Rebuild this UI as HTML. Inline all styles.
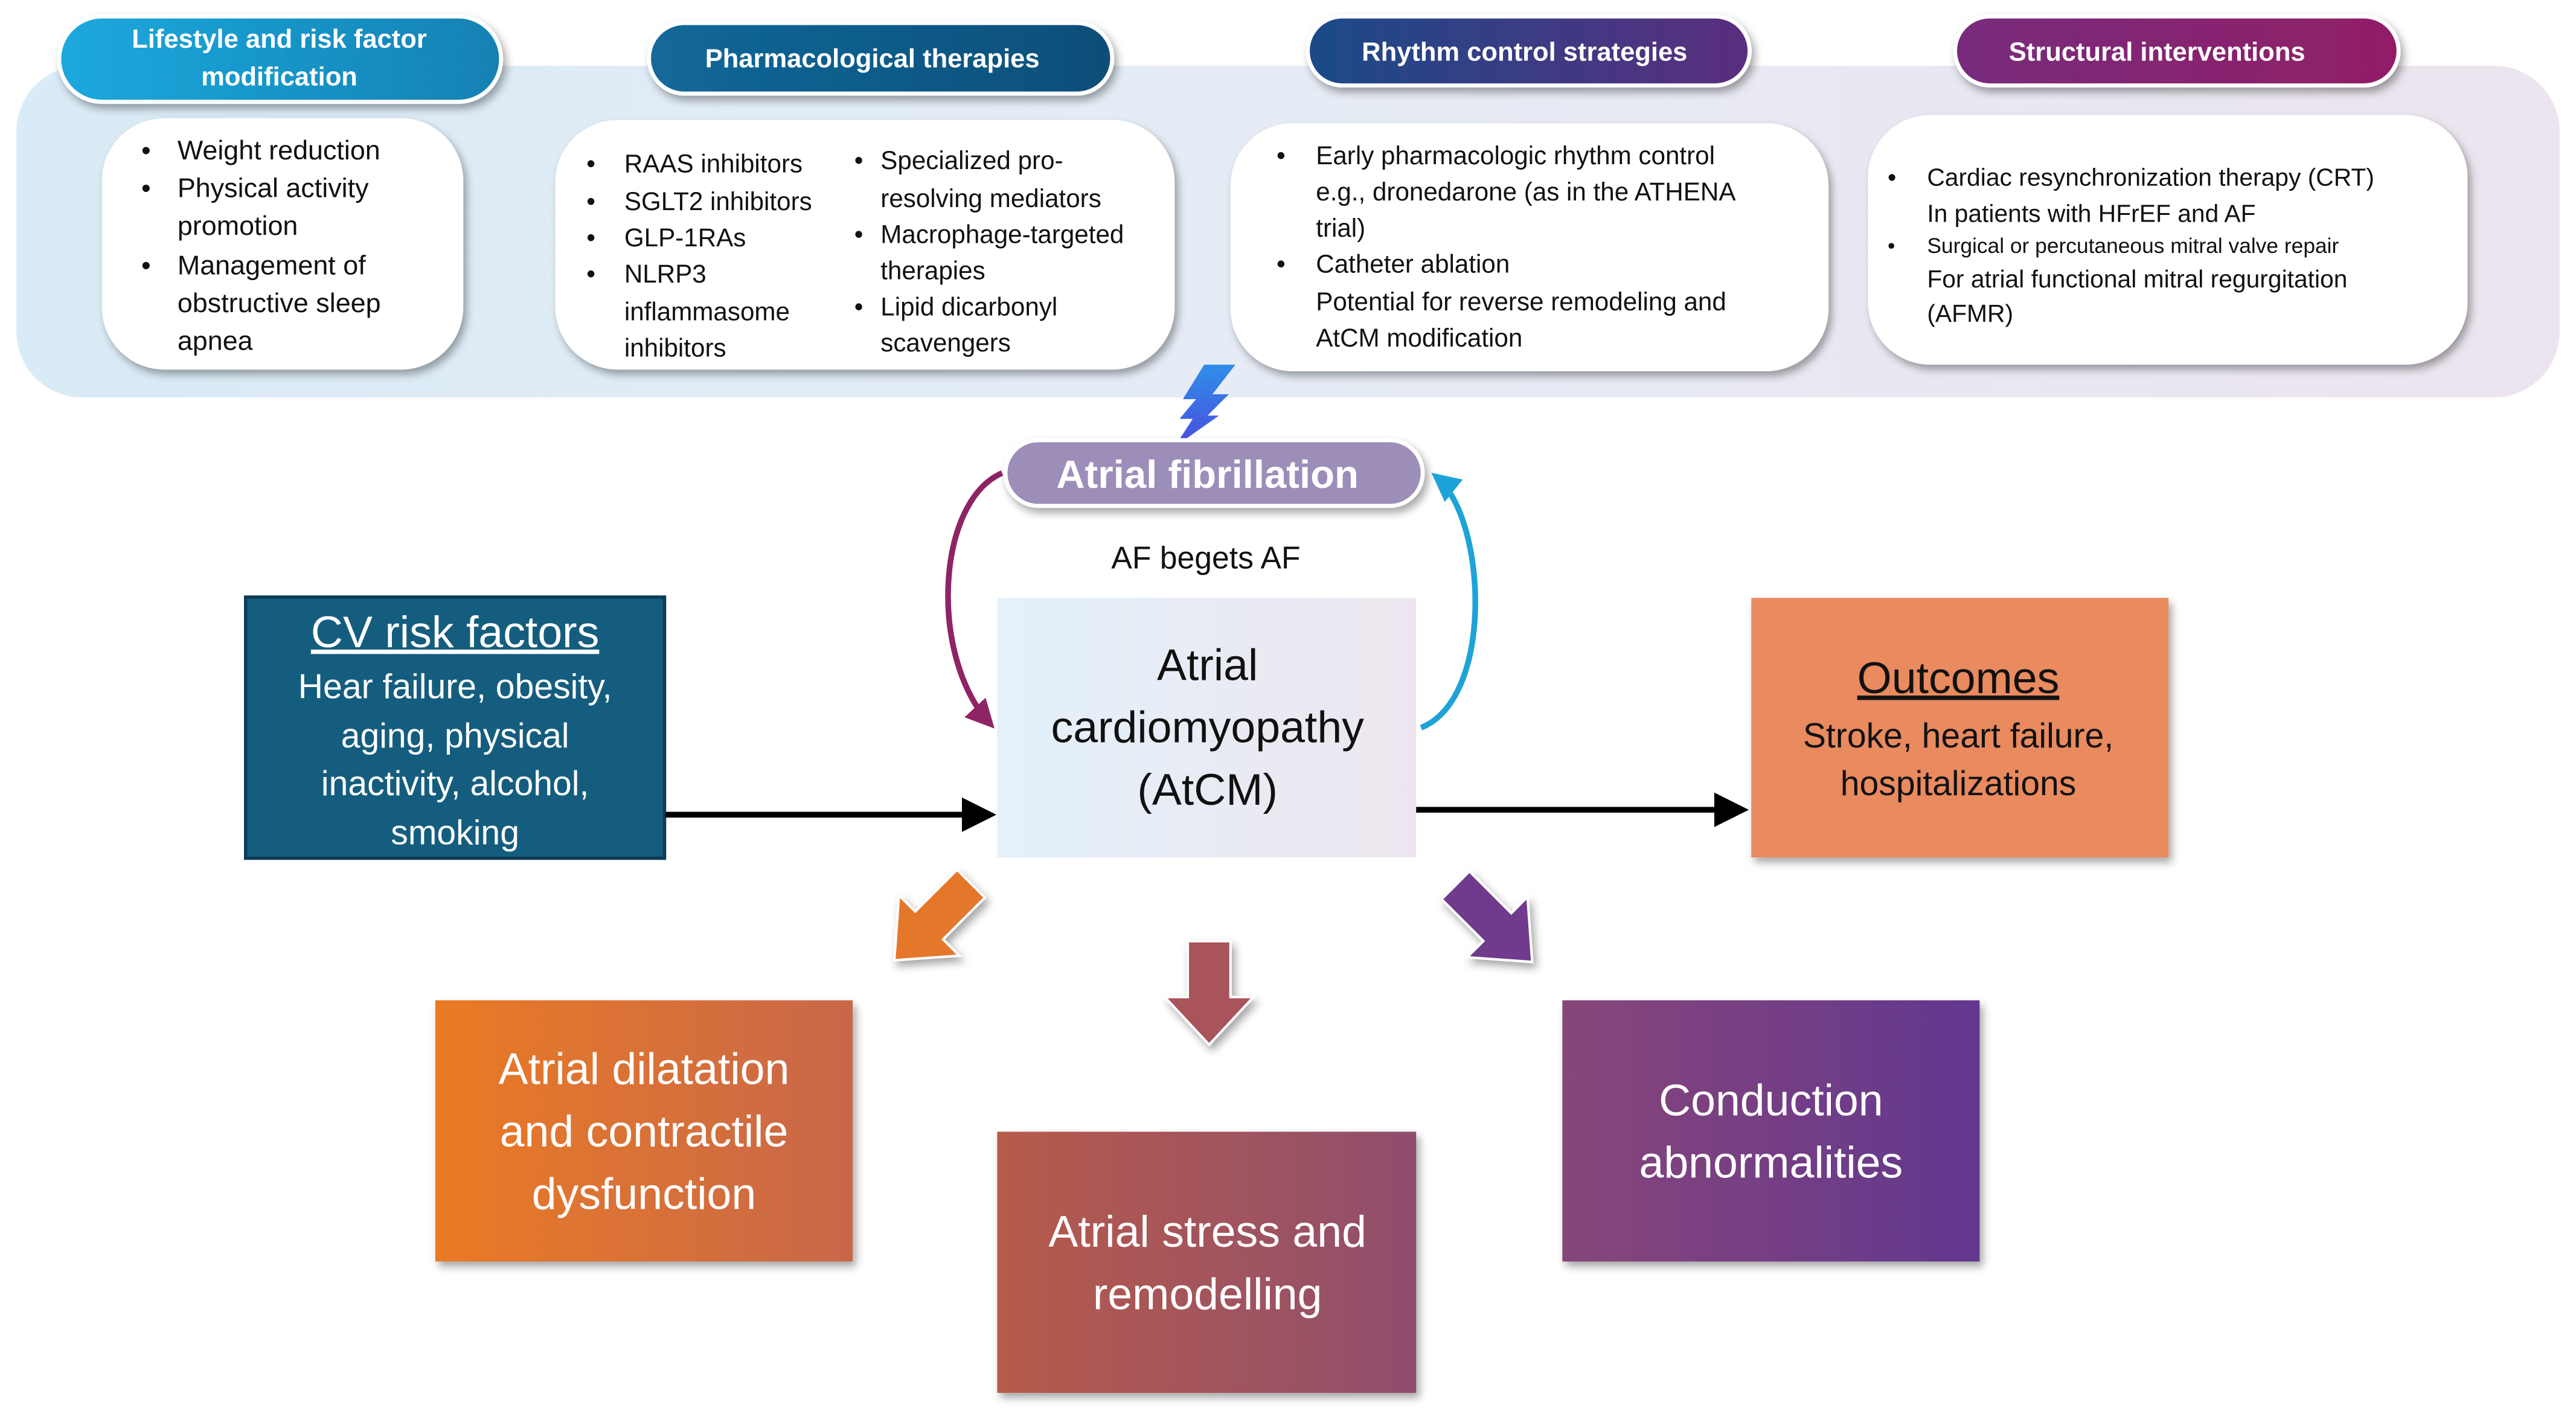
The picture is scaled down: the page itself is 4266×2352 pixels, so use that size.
<!DOCTYPE html>
<html><head><meta charset="utf-8"><style>
html,body{margin:0;padding:0;background:#fff;}
svg{display:block;}
text{font-family:"Liberation Sans",sans-serif;}
</style></head><body>
<svg width="4266" height="2352" viewBox="0 0 1568 864.5" xmlns="http://www.w3.org/2000/svg">
<defs>
<linearGradient id="band" x1="0" x2="1"><stop offset="0" stop-color="#d9ebf6"/><stop offset="0.5" stop-color="#e6ecf5"/><stop offset="1" stop-color="#ece4ee"/></linearGradient>
<linearGradient id="p1" x1="0" x2="1"><stop offset="0" stop-color="#1ba9de"/><stop offset="1" stop-color="#1681b3"/></linearGradient>
<linearGradient id="p2" x1="0" x2="1"><stop offset="0" stop-color="#12699a"/><stop offset="1" stop-color="#0e4e78"/></linearGradient>
<linearGradient id="p3" x1="0" x2="1"><stop offset="0" stop-color="#1b4a88"/><stop offset="1" stop-color="#5b2d7e"/></linearGradient>
<linearGradient id="p4" x1="0" x2="1"><stop offset="0" stop-color="#772c7c"/><stop offset="1" stop-color="#921e66"/></linearGradient>
<linearGradient id="atcm" x1="0" x2="1"><stop offset="0" stop-color="#e3f1fa"/><stop offset="1" stop-color="#eee6ef"/></linearGradient>
<linearGradient id="b1" x1="0" x2="1"><stop offset="0" stop-color="#ea7a24"/><stop offset="1" stop-color="#c8684a"/></linearGradient>
<linearGradient id="b2" x1="0" x2="1"><stop offset="0" stop-color="#b75b4b"/><stop offset="1" stop-color="#8f4e6d"/></linearGradient>
<linearGradient id="b3" x1="0" x2="1"><stop offset="0" stop-color="#874679"/><stop offset="1" stop-color="#62378f"/></linearGradient>
<linearGradient id="bolt" x1="0" x2="0" y1="0" y2="1"><stop offset="0" stop-color="#2f8ee8"/><stop offset="1" stop-color="#4a4ce0"/></linearGradient>
<filter id="sh" x="-20%" y="-20%" width="140%" height="150%"><feDropShadow dx="2" dy="3" stdDeviation="2.5" flood-color="#000" flood-opacity="0.35"/></filter>
<marker id="ah" markerWidth="6" markerHeight="6" refX="5" refY="3" orient="auto" markerUnits="strokeWidth"><path d="M0,0 L6,3 L0,6 Z" fill="#000"/></marker>
<marker id="ahp" markerWidth="5" markerHeight="5" refX="4" refY="2.5" orient="auto" markerUnits="strokeWidth"><path d="M0,0 L5,2.5 L0,5 Z" fill="#8e2466"/></marker>
<marker id="ahb" markerWidth="5" markerHeight="5" refX="4" refY="2.5" orient="auto" markerUnits="strokeWidth"><path d="M0,0 L5,2.5 L0,5 Z" fill="#1ea3d8"/></marker>
</defs>

<rect x="10" y="40" width="1548" height="202" rx="40" fill="url(#band)"/>

<!-- header pills -->
<rect x="36" y="10" width="269" height="52" rx="26" fill="url(#p1)" stroke="#fff" stroke-width="2.5" filter="url(#sh)"/>
<text x="170" y="29" font-size="16" font-weight="bold" fill="#fff" text-anchor="middle">Lifestyle and risk factor</text>
<text x="170" y="52" font-size="16" font-weight="bold" fill="#fff" text-anchor="middle">modification</text>
<rect x="395" y="14" width="282" height="43" rx="21.5" fill="url(#p2)" stroke="#fff" stroke-width="2.5" filter="url(#sh)"/>
<text x="531" y="41" font-size="16" font-weight="bold" fill="#fff" text-anchor="middle">Pharmacological therapies</text>
<rect x="796" y="10" width="269" height="42" rx="21" fill="url(#p3)" stroke="#fff" stroke-width="2.5" filter="url(#sh)"/>
<text x="928" y="37" font-size="16" font-weight="bold" fill="#fff" text-anchor="middle">Rhythm control strategies</text>
<rect x="1190" y="10" width="270" height="42" rx="21" fill="url(#p4)" stroke="#fff" stroke-width="2.5" filter="url(#sh)"/>
<text x="1313" y="37" font-size="16" font-weight="bold" fill="#fff" text-anchor="middle">Structural interventions</text>

<!-- white boxes -->
<rect x="62" y="72" width="220" height="153" rx="38" fill="#fff" filter="url(#sh)"/>
<g font-size="16.5" fill="#111">
<text x="86" y="97">•</text><text x="108" y="97">Weight reduction</text>
<text x="86" y="120">•</text><text x="108" y="120">Physical activity</text>
<text x="108" y="143">promotion</text>
<text x="86" y="167">•</text><text x="108" y="167">Management of</text>
<text x="108" y="190">obstructive sleep</text>
<text x="108" y="213">apnea</text>
</g>
<rect x="338" y="73" width="377" height="152" rx="38" fill="#fff" filter="url(#sh)"/>
<g font-size="15.5" fill="#111">
<text x="357" y="105">•</text><text x="380" y="105">RAAS inhibitors</text>
<text x="357" y="128">•</text><text x="380" y="128">SGLT2 inhibitors</text>
<text x="357" y="150">•</text><text x="380" y="150">GLP-1RAs</text>
<text x="357" y="172">•</text><text x="380" y="172">NLRP3</text>
<text x="380" y="195">inflammasome</text>
<text x="380" y="217">inhibitors</text>
<text x="520" y="103">•</text><text x="536" y="103">Specialized pro-</text>
<text x="536" y="126">resolving mediators</text>
<text x="520" y="148">•</text><text x="536" y="148">Macrophage-targeted</text>
<text x="536" y="170">therapies</text>
<text x="520" y="192">•</text><text x="536" y="192">Lipid dicarbonyl</text>
<text x="536" y="214">scavengers</text>
</g>
<rect x="749" y="75" width="364" height="151" rx="38" fill="#fff" filter="url(#sh)"/>
<g font-size="15.5" fill="#111">
<text x="777" y="100">•</text><text x="801" y="100">Early pharmacologic rhythm control</text>
<text x="801" y="122">e.g., dronedarone (as in the ATHENA</text>
<text x="801" y="144">trial)</text>
<text x="777" y="166">•</text><text x="801" y="166">Catheter ablation</text>
<text x="801" y="189">Potential for reverse remodeling and</text>
<text x="801" y="211">AtCM modification</text>
</g>
<rect x="1137" y="70" width="365" height="152" rx="38" fill="#fff" filter="url(#sh)"/>
<g font-size="15" fill="#111">
<text x="1149" y="113">•</text><text x="1173" y="113">Cardiac resynchronization therapy (CRT)</text>
<text x="1173" y="135">In patients with HFrEF and AF</text>
<text x="1149" y="154" font-size="13">•</text><text x="1173" y="154" font-size="13">Surgical or percutaneous mitral valve repair</text>
<text x="1173" y="175">For atrial functional mitral regurgitation</text>
<text x="1173" y="196">(AFMR)</text>
</g>

<!-- bolt -->
<path d="M733,222 L752,222 L738,240 L748,240 L735,253 L742,253 L715,272 L726,255 L718,255 L728,243 L720,243 Z" fill="url(#bolt)"/>

<!-- AF pill -->
<rect x="612" y="268" width="254" height="40" rx="20" fill="#9c8db9" stroke="#fff" stroke-width="2.5" filter="url(#sh)"/>
<text x="735" y="297" font-size="24" font-weight="bold" fill="#fff" text-anchor="middle">Atrial fibrillation</text>
<text x="734" y="346" font-size="19" fill="#111" text-anchor="middle">AF begets AF</text>

<!-- curved arrows -->
<path d="M610,288 C570,305 565,400 603,441" fill="none" stroke="#8e2466" stroke-width="3.5" marker-end="url(#ahp)"/>
<path d="M865,443 C910,425 905,315 874,290" fill="none" stroke="#1ea3d8" stroke-width="3.5" marker-end="url(#ahb)"/>

<!-- AtCM -->
<rect x="607" y="364" width="255" height="158" fill="url(#atcm)"/>
<g font-size="27" fill="#111" text-anchor="middle">
<text x="735" y="414">Atrial</text>
<text x="735" y="452">cardiomyopathy</text>
<text x="735" y="490">(AtCM)</text>
</g>

<!-- CV risk -->
<rect x="149.5" y="363.5" width="255" height="159" fill="#155d7e" stroke="#0c3b57" stroke-width="2"/>
<text x="277" y="394" font-size="27" fill="#fff" text-anchor="middle" text-decoration="underline">CV risk factors</text>
<g font-size="21" fill="#fff" text-anchor="middle">
<text x="277" y="425">Hear failure, obesity,</text>
<text x="277" y="455">aging, physical</text>
<text x="277" y="484">inactivity, alcohol,</text>
<text x="277" y="514">smoking</text>
</g>

<line x1="405" y1="496" x2="603" y2="496" stroke="#000" stroke-width="3.5" marker-end="url(#ah)"/>
<line x1="862" y1="493" x2="1061" y2="493" stroke="#000" stroke-width="3.5" marker-end="url(#ah)"/>

<!-- Outcomes -->
<rect x="1066" y="364" width="254" height="158" fill="#e98a5f" filter="url(#sh)"/>
<text x="1192" y="422" font-size="27" fill="#111" text-anchor="middle" text-decoration="underline">Outcomes</text>
<text x="1192" y="455" font-size="21" fill="#111" text-anchor="middle">Stroke, heart failure,</text>
<text x="1192" y="484" font-size="21" fill="#111" text-anchor="middle">hospitalizations</text>

<!-- block arrows -->
<g filter="url(#sh)" stroke="#fff" stroke-width="1.5">
<path transform="translate(567,562) rotate(45)" d="M-12,-34 L12,-34 L12,2 L26,2 L0,32 L-26,2 L-12,2 Z" fill="#e5772a"/>
<path transform="translate(736,604)" d="M-13,-31 L13,-31 L13,3 L27,3 L0,32 L-27,3 L-13,3 Z" fill="#a9525a"/>
<path transform="translate(910,563) rotate(-45)" d="M-12,-34 L12,-34 L12,2 L26,2 L0,32 L-26,2 L-12,2 Z" fill="#703a8c"/>
</g>

<!-- bottom boxes -->
<rect x="265" y="609" width="254" height="159" fill="url(#b1)" filter="url(#sh)"/>
<g font-size="27" fill="#fff" text-anchor="middle">
<text x="392" y="660">Atrial dilatation</text>
<text x="392" y="698">and contractile</text>
<text x="392" y="736">dysfunction</text>
</g>
<rect x="607" y="689" width="255" height="159" fill="url(#b2)" filter="url(#sh)"/>
<g font-size="27" fill="#fff" text-anchor="middle">
<text x="735" y="759">Atrial stress and</text>
<text x="735" y="797">remodelling</text>
</g>
<rect x="951" y="609" width="254" height="159" fill="url(#b3)" filter="url(#sh)"/>
<g font-size="27" fill="#fff" text-anchor="middle">
<text x="1078" y="679">Conduction</text>
<text x="1078" y="717">abnormalities</text>
</g>
</svg>
</body></html>
